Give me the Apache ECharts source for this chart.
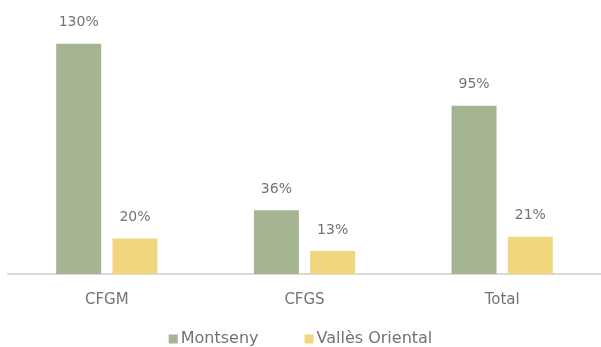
<!DOCTYPE html>
<html>
<head>
<meta charset="utf-8">
<script src="https://cdn.jsdelivr.net/npm/echarts@6/dist/echarts.min.js"></script>
<style>
  html, body { margin: 0; padding: 0; background: #ffffff; }
  #chart { width: 601px; height: 347px; }
</style>
</head>
<body>
<div id="chart"></div>
<script>
// Categories and series (percent values)
const categories = ['CFGM', 'CFGS', 'Total'];
const montseny = [130, 36, 95];
const vallesOriental = [20, 13, 21];

const FONT = 'DejaVu Sans';
const TEXT = '#737373';

const chart = echarts.init(document.getElementById('chart'), null, { renderer: 'canvas' });

const labelStyle = {
  show: true,
  position: 'top',
  distance: 14,
  color: TEXT,
  fontFamily: FONT,
  fontSize: 14,
  formatter: p => p.value + '%'
};

chart.setOption({
  animation: false,
  backgroundColor: '#ffffff',
  grid: { left: 8, right: -3, top: 26, bottom: 73, containLabel: false },
  legend: {
    bottom: -5,
    left: 'center',
    itemWidth: 9,
    itemHeight: 9,
    itemGap: 46,
    icon: 'rect',
    textStyle: { color: TEXT, fontFamily: FONT, fontSize: 16, padding: [0, 0, 0, -2] },
    data: ['Montseny', 'Vallès Oriental']
  },
  xAxis: {
    type: 'category',
    data: categories,
    axisLine: { lineStyle: { color: '#d9d9d9', width: 2 } },
    axisTick: { show: false },
    axisLabel: { color: TEXT, fontFamily: FONT, fontSize: 15, margin: 19 }
  },
  yAxis: {
    type: 'value',
    min: 0,
    max: 140,
    show: false
  },
  series: [
    {
      name: 'Montseny',
      type: 'bar',
      data: montseny,
      barWidth: 45,
      barGap: '25%',
      itemStyle: { color: '#a5b592' },
      label: labelStyle
    },
    {
      name: 'Vallès Oriental',
      type: 'bar',
      data: vallesOriental,
      barWidth: 45,
      itemStyle: { color: '#f1d67d' },
      label: labelStyle
    }
  ]
});
</script>
</body>
</html>
